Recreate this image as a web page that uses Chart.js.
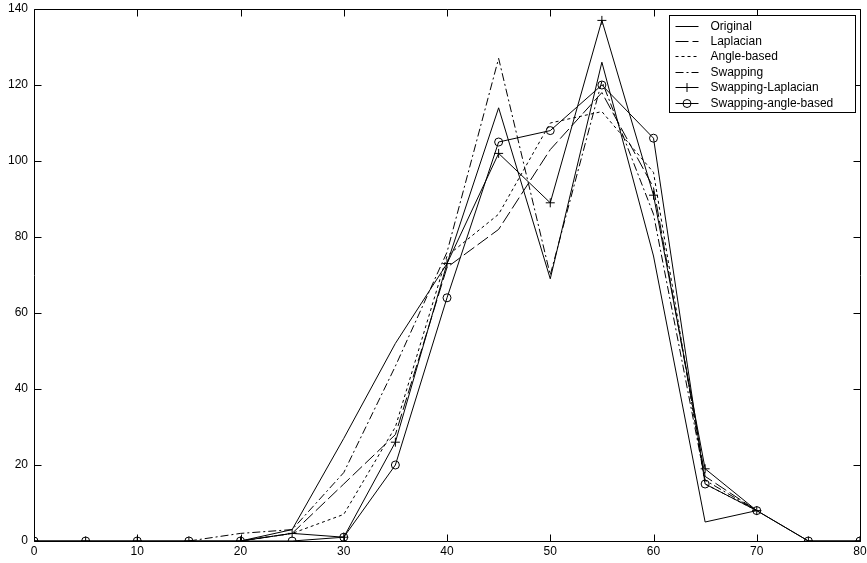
<!DOCTYPE html>
<html>
<head>
<meta charset="utf-8">
<script src="https://cdn.jsdelivr.net/npm/chart.js@4/dist/chart.umd.min.js"></script>
<style>
  html, body { margin: 0; padding: 0; background: #ffffff; }
  canvas { display: block; }
</style>
</head>
<body>
<canvas id="c" width="867" height="563"></canvas>
<script>
// ---- data ----
const xValues = [0, 5, 10, 15, 20, 25, 30, 35, 40, 45, 50, 55, 60, 65, 70, 75, 80];
const xTicks = [0, 10, 20, 30, 40, 50, 60, 70, 80];
const yTicks = [0, 20, 40, 60, 80, 100, 120, 140];

const original           = [null, null, null, null, 0, 3, 27, 52, 73, 114, 69, 126, 75, 5, 8, null, null];
const laplacian          = [null, null, null, null, 0, 2, 15, 28, 72, 82, 103, 118, 93, 17, 8, null, null];
const angleBased         = [null, null, null, null, 0, 2, 7, 30, 75, 86, 110, 113, 97, 15, 8, null, null];
const swapping           = [null, null, null, 0, 2, 3, 18, 46, 76, 127, 70, 121, 86, 16, 8, null, null];
const swappingLaplacian  = [0, 0, 0, 0, 0, 2, 1, 26, 73, 102, 89, 137, 91, 19, 8, 0, 0];
const swappingAngleBased = [0, 0, 0, 0, 0, 0, 1, 20, 64, 105, 108, 120, 106, 15, 8, 0, 0];

const seriesNames = ['Original', 'Laplacian', 'Angle-based', 'Swapping', 'Swapping-Laplacian', 'Swapping-angle-based'];

const FONT = '"Liberation Sans", Arial, sans-serif';

function pts(arr) {
  return arr.map((v, i) => ({ x: xValues[i], y: v }));
}

function ds(label, arr, dash, pointStyle) {
  return {
    label: label,
    data: pts(arr),
    borderColor: '#000000',
    borderWidth: 1,
    borderDash: dash,
    backgroundColor: 'rgba(0,0,0,0)',
    pointStyle: pointStyle || 'circle',
    pointRadius: pointStyle ? (pointStyle === 'cross' ? 4.5 : 4) : 0,
    pointBorderColor: '#000000',
    pointBackgroundColor: 'rgba(0,0,0,0)',
    pointBorderWidth: 1,
    pointHoverRadius: 0,
    tension: 0,
    fill: false,
    spanGaps: false
  };
}

const datasets = [
  ds(seriesNames[0], original, []),
  ds(seriesNames[1], laplacian, [13, 4]),
  ds(seriesNames[2], angleBased, [3, 3]),
  ds(seriesNames[3], swapping, [8, 3, 2, 3]),
  ds(seriesNames[4], swappingLaplacian, [], 'cross'),
  ds(seriesNames[5], swappingAngleBased, [], 'circle')
];

// frame with inward ticks (MATLAB style)
const framePlugin = {
  id: 'frame',
  afterDatasetsDraw(chart) {
    const ctx = chart.ctx;
    const a = chart.chartArea;
    const xs = chart.scales.x, ys = chart.scales.y;
    const L = Math.round(a.left) + 0.5, R = Math.round(a.right) + 0.5;
    const T = Math.round(a.top) + 0.5, B = Math.round(a.bottom) + 0.5;
    const tl = 7;
    ctx.save();
    ctx.strokeStyle = '#000000';
    ctx.lineWidth = 1;
    ctx.setLineDash([]);
    ctx.beginPath();
    ctx.rect(L, T, R - L, B - T);
    xTicks.forEach(v => {
      const px = Math.round(xs.getPixelForValue(v)) + 0.5;
      ctx.moveTo(px, B); ctx.lineTo(px, B - tl);
      ctx.moveTo(px, T); ctx.lineTo(px, T + tl);
    });
    yTicks.forEach(v => {
      const py = Math.round(ys.getPixelForValue(v)) + 0.5;
      ctx.moveTo(L, py); ctx.lineTo(L + tl, py);
      ctx.moveTo(R, py); ctx.lineTo(R - tl, py);
    });
    ctx.stroke();
    ctx.restore();
  }
};

// legend box inside the axes, top right
const legendPlugin = {
  id: 'boxLegend',
  afterDraw(chart) {
    const ctx = chart.ctx;
    const a = chart.chartArea;
    const w = 186, h = 97;
    const left = Math.round(a.right - 5 - w) + 0.5;
    const top = Math.round(a.top + 6) + 0.5;
    ctx.save();
    ctx.fillStyle = '#ffffff';
    ctx.fillRect(left, top, w, h);
    ctx.strokeStyle = '#000000';
    ctx.lineWidth = 1;
    ctx.setLineDash([]);
    ctx.strokeRect(left, top, w, h);
    ctx.font = '12px ' + FONT;
    ctx.textBaseline = 'middle';
    ctx.textAlign = 'left';
    chart.data.datasets.forEach((d, i) => {
      const y = Math.round(top + 10 + i * 15.4) + 0.5;
      ctx.beginPath();
      ctx.setLineDash(d.borderDash || []);
      ctx.strokeStyle = '#000000';
      ctx.lineWidth = 1;
      ctx.moveTo(left + 6, y);
      ctx.lineTo(left + 29, y);
      ctx.stroke();
      ctx.setLineDash([]);
      if (d.pointRadius > 0) {
        ctx.fillStyle = 'rgba(0,0,0,0)';
        ctx.strokeStyle = '#000000';
        Chart.helpers.drawPoint(ctx, {
          pointStyle: d.pointStyle,
          radius: d.pointRadius,
          rotation: 0,
          borderWidth: 1
        }, left + 17.5, y);
      }
      ctx.fillStyle = '#000000';
      ctx.fillText(d.label, left + 41, y);
    });
    ctx.restore();
  }
};

new Chart(document.getElementById('c'), {
  type: 'line',
  data: { datasets: datasets },
  options: {
    responsive: false,
    animation: false,
    devicePixelRatio: 1,
    layout: { padding: { top: 9, right: 7, left: 0, bottom: 0 } },
    plugins: {
      legend: { display: false },
      tooltip: { enabled: false }
    },
    scales: {
      x: {
        type: 'linear',
        min: 0, max: 80,
        afterBuildTicks(s) { s.ticks = xTicks.map(v => ({ value: v })); },
        afterFit(s) { s.height = 22; s.paddingLeft = 0; s.paddingRight = 0; },
        grid: { display: false, drawTicks: false },
        border: { display: false },
        ticks: { color: '#000000', font: { family: FONT, size: 12 }, padding: 3, maxRotation: 0, autoSkip: false }
      },
      y: {
        type: 'linear',
        min: 0, max: 140,
        afterBuildTicks(s) { s.ticks = yTicks.map(v => ({ value: v })); },
        afterFit(s) { s.width = 34; s.paddingTop = 0; s.paddingBottom = 0; },
        grid: { display: false, drawTicks: false },
        border: { display: false },
        ticks: { color: '#000000', font: { family: FONT, size: 12 }, padding: 6 }
      }
    }
  },
  plugins: [framePlugin, legendPlugin]
});
</script>
</body>
</html>
